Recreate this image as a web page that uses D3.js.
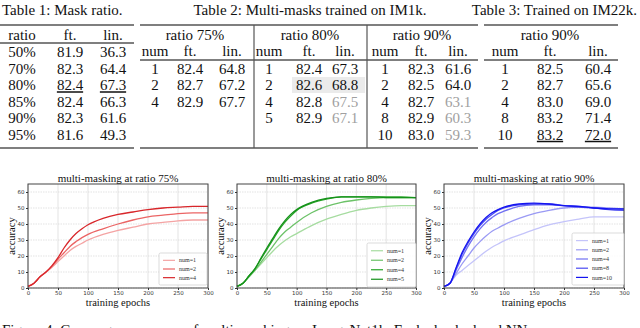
<!DOCTYPE html>
<html lang="en">
<head>
<meta charset="utf-8">
<title>Multi-masking tables and curves</title>
<script src="https://d3js.org/d3.v7.min.js"></script>
<style>
  body { margin: 0; background: #fff; }
  svg { display: block; }
  .tbl text { font-family: "Liberation Serif", "Times New Roman", "DejaVu Serif", serif; font-size: 15px; fill: #111; }
  .rule { stroke: #555; stroke-width: 1.4; }
  .vrule { stroke: #555; stroke-width: 1.2; }
  .chart .tick text { font-family: "DejaVu Sans", sans-serif; font-size: 5.5px; fill: #333; }
  .chart .tick line { stroke: #333; }
  .grid line { stroke: #dcdcdc; stroke-width: 0.8; }
  .ctitle { font-family: "Liberation Serif", "DejaVu Serif", serif; font-size: 11px; fill: #111; }
  .clabel { font-family: "Liberation Serif", "DejaVu Serif", serif; font-size: 10.5px; fill: #111; }
  .legend text { font-family: "Liberation Serif", "DejaVu Serif", serif; font-size: 6px; fill: #333; }
</style>
</head>
<body>
<script>
// ---- table data ----
var t1Rows = [
  ["50%", "81.9", "36.3"],
  ["70%", "82.3", "64.4"],
  ["80%", "82.4", "67.3"],
  ["85%", "82.4", "66.3"],
  ["90%", "82.3", "61.6"],
  ["95%", "81.6", "49.3"]
];
var t2Groups = ["ratio 75%", "ratio 80%", "ratio 90%"];
var t2r75 = [["1", "82.4", "64.8"], ["2", "82.7", "67.2"], ["4", "82.9", "67.7"]];
var t2r80 = [["1", "82.4", "67.3"], ["2", "82.6", "68.8"], ["4", "82.8", "67.5"], ["5", "82.9", "67.1"]];
var t2r90 = [["1", "82.3", "61.6"], ["2", "82.5", "64.0"], ["4", "82.7", "63.1"], ["8", "82.9", "60.3"], ["10", "83.0", "59.3"]];
var t2Gray = { "80-2": true, "80-3": true, "90-2": true, "90-3": true, "90-4": true }; // lin. greyed
var t3Rows = [["1", "82.5", "60.4"], ["2", "82.7", "65.6"], ["4", "83.0", "69.0"], ["8", "83.2", "71.4"], ["10", "83.2", "72.0"]];

// ---- curve data (accuracy vs training epoch) ----
var epochs = [0, 10, 20, 30, 40, 50, 60, 70, 80, 90, 100, 125, 150, 175, 200, 225, 250, 275, 300];
var r75 = {
  "num=1": [1, 3, 7, 10, 13, 16.5, 20, 23.5, 26, 28, 30, 33.5, 36, 38, 40, 41, 42, 42.5, 42.5],
  "num=2": [1, 3, 7, 10, 13.5, 18, 22, 26, 29, 31.5, 33.5, 37, 40, 42.5, 44.5, 45.5, 46.5, 47, 47],
  "num=4": [1, 3, 7, 10, 14, 19, 25, 30, 34, 37, 39.5, 43.5, 46, 47.5, 49, 50, 50.5, 51, 51]
};
var r80 = {
  "num=1": [1, 3, 7, 11, 15, 19, 23, 26.5, 29.5, 32, 34, 39, 43, 46, 48.5, 50, 51, 51.5, 51.5],
  "num=2": [1, 3, 7, 11, 16, 21, 26, 31, 35, 38, 41, 47, 51, 53.5, 55, 56, 56.5, 56.5, 56.5],
  "num=4": [1, 3, 7.5, 12, 18, 24, 30, 36, 41, 45, 48.5, 53, 55.5, 57, 57, 57, 57, 57, 56.5],
  "num=5": [1, 3, 7.5, 12, 18.5, 25, 31, 37, 42, 46, 49, 53.5, 56, 57, 57, 57, 56.5, 56.5, 56.5]
};
var r90 = {
  "num=1": [1, 3, 8, 11, 14, 17, 20, 23, 25.5, 27.5, 29.5, 33, 36.5, 39.5, 41.5, 43, 44.5, 44.5, 44.5],
  "num=2": [1, 3, 9, 15, 20, 25, 29, 32.5, 35.5, 37.5, 39.5, 43.5, 46.5, 48.5, 50, 50.5, 50.5, 50, 49.5],
  "num=4": [1, 3, 11, 19, 26, 32, 37, 41, 44, 46.5, 48, 51, 52, 52, 51.5, 51, 50, 49.5, 49],
  "num=8": [1, 3, 12, 21, 28, 34, 39, 43, 46, 48.5, 50, 52, 52.5, 52.5, 51.5, 50.5, 50, 49, 48.5],
  "num=10": [1, 3, 12.5, 22, 29, 35, 40, 44, 47, 49, 50.5, 52.5, 53, 52.5, 51.5, 51, 50, 49.5, 49.5]
};
var xTicks = [0, 50, 100, 150, 200, 250, 300];
var yTicks = [0, 10, 20, 30, 40, 50, 60];

var W = 640, H = 328;
var svg = d3.select("body").append("svg").attr("width", W).attr("height", H);

// ================= tables =================
var tbl = svg.append("g").attr("class", "tbl");
var rowY = [52, 68.5, 85, 101.5, 118, 134.5]; // text centres for body rows

function hline(x1, x2, y) {
  tbl.append("line").attr("class", "rule").attr("x1", x1).attr("x2", x2).attr("y1", y).attr("y2", y);
}
function cell(x, y, s, opts) {
  opts = opts || {};
  var t = tbl.append("text").attr("x", x).attr("y", y).attr("dy", "0.35em")
    .attr("text-anchor", "middle").text(s);
  if (opts.gray) t.style("fill", "#a0a0a0");
  if (opts.under) t.attr("text-decoration", "underline");
  return t;
}

// Table 1
tbl.append("text").attr("x", 2).attr("y", 15).text("Table 1: Mask ratio.");
hline(0, 134, 25);
cell(22, 35, "ratio"); cell(70, 35, "ft."); cell(113, 35, "lin.");
hline(0, 134, 43);
t1Rows.forEach(function(r, i) {
  var u = r[0] === "80%";
  cell(22, rowY[i], r[0]);
  cell(70, rowY[i], r[1], { under: u });
  cell(113, rowY[i], r[2], { under: u });
});
hline(0, 134, 148);

// Table 2
tbl.append("text").attr("x", 310).attr("y", 15).attr("text-anchor", "middle")
  .text("Table 2: Multi-masks trained on IM1k.");
hline(140, 478, 25);
hline(140, 478, 60);
hline(140, 478, 148);
[254, 367].forEach(function(x) {
  tbl.append("line").attr("class", "vrule").attr("x1", x).attr("x2", x).attr("y1", 25).attr("y2", 148);
});
var t2Cols = [
  { key: "75", rows: t2r75, cx: [155, 190, 232], mid: 195 },
  { key: "80", rows: t2r80, cx: [269, 309, 345], mid: 310 },
  { key: "90", rows: t2r90, cx: [385, 421, 458], mid: 422 }
];
// highlight cell
tbl.append("rect").attr("x", 292).attr("y", 77).attr("width", 73).attr("height", 16).attr("fill", "#ebebeb");
t2Cols.forEach(function(g, gi) {
  cell(g.mid, 35, t2Groups[gi]);
  cell(g.cx[0], 51, "num"); cell(g.cx[1], 51, "ft."); cell(g.cx[2], 51, "lin.");
  g.rows.forEach(function(r, i) {
    var y = rowY[i + 1];
    cell(g.cx[0], y, r[0]);
    cell(g.cx[1], y, r[1]);
    cell(g.cx[2], y, r[2], { gray: t2Gray[g.key + "-" + i] });
  });
});

// Table 3
tbl.append("text").attr("x", 637).attr("y", 15).attr("text-anchor", "end")
  .text("Table 3: Trained on IM22k.");
hline(484, 618, 25);
hline(484, 618, 60);
hline(484, 618, 148);
cell(550, 35, "ratio 90%");
var t3cx = [505, 550, 598];
cell(t3cx[0], 51, "num"); cell(t3cx[1], 51, "ft."); cell(t3cx[2], 51, "lin.");
t3Rows.forEach(function(r, i) {
  var u = i === t3Rows.length - 1;
  cell(t3cx[0], rowY[i + 1], r[0]);
  cell(t3cx[1], rowY[i + 1], r[1], { under: u });
  cell(t3cx[2], rowY[i + 1], r[2], { under: u });
});

// ================= charts =================
var charts = [
  { title: "multi-masking at ratio 75%", data: r75, x0: 28, x1: 208, ylab: 12,
    colors: ["#f4a3a3", "#eb6464", "#d8262a"], leg: [159, 253, 48, 32] },
  { title: "multi-masking at ratio 80%", data: r80, x0: 237, x1: 416, ylab: 221,
    colors: ["#a6dca0", "#6cc268", "#28a428", "#15921a"], leg: [367, 243, 49, 44] },
  { title: "multi-masking at ratio 90%", data: r90, x0: 444, x1: 624, ylab: 428,
    colors: ["#c4c4fa", "#9a9af4", "#7070f2", "#4a4af2", "#1414f0"], leg: [572, 233, 52, 52] }
];
var plotTop = 184, plotBottom = 288;

charts.forEach(function(c) {
  var g = svg.append("g").attr("class", "chart");
  var x = d3.scaleLinear().domain([0, 300]).range([c.x0, c.x1]);
  var y = d3.scaleLinear().domain([0, 65]).range([plotBottom, plotTop]);

  var grid = g.append("g").attr("class", "grid");
  grid.selectAll(".gx").data(xTicks).enter().append("line")
    .attr("x1", x).attr("x2", x).attr("y1", plotTop).attr("y2", plotBottom);
  grid.selectAll(".gy").data(yTicks).enter().append("line")
    .attr("x1", c.x0).attr("x2", c.x1).attr("y1", y).attr("y2", y)
    .attr("stroke-dasharray", "1.5,1");

  var line = d3.line()
    .x(function(d, i) { return x(epochs[i]); })
    .y(function(d) { return y(d); })
    .curve(d3.curveMonotoneX);

  var keys = Object.keys(c.data);
  keys.forEach(function(k, i) {
    g.append("path").attr("d", line(c.data[k]))
      .attr("fill", "none").attr("stroke", c.colors[i]).attr("stroke-width", 1.3);
  });

  // frame
  g.append("rect").attr("x", c.x0).attr("y", plotTop).attr("width", c.x1 - c.x0).attr("height", plotBottom - plotTop)
    .attr("fill", "none").attr("stroke", "#444").attr("stroke-width", 1);

  g.append("g").attr("transform", "translate(0," + plotBottom + ")")
    .call(d3.axisBottom(x).tickValues(xTicks).tickSize(2).tickPadding(1.5))
    .call(function(s) { s.select(".domain").remove(); });
  g.append("g").attr("transform", "translate(" + c.x0 + ",0)")
    .call(d3.axisLeft(y).tickValues(yTicks).tickSize(2).tickPadding(1.5))
    .call(function(s) { s.select(".domain").remove(); });

  g.append("text").attr("class", "ctitle").attr("x", (c.x0 + c.x1) / 2).attr("y", 182)
    .attr("text-anchor", "middle").text(c.title);
  g.append("text").attr("class", "clabel").attr("x", (c.x0 + c.x1) / 2).attr("y", 306)
    .attr("text-anchor", "middle").text("training epochs");
  g.append("text").attr("class", "clabel")
    .attr("transform", "translate(" + (c.ylab + 3) + "," + ((plotTop + plotBottom) / 2) + ") rotate(-90)")
    .attr("text-anchor", "middle").text("accuracy");

  // legend
  var L = c.leg;
  var lg = g.append("g").attr("class", "legend");
  lg.append("rect").attr("x", L[0]).attr("y", L[1]).attr("width", L[2]).attr("height", L[3])
    .attr("fill", "#fff").attr("fill-opacity", 0.85).attr("stroke", "#ccc").attr("stroke-width", 0.7).attr("rx", 1.5);
  var step = (L[3] - 6) / keys.length;
  keys.forEach(function(k, i) {
    var yy = L[1] + 3 + step * (i + 0.5);
    lg.append("line").attr("x1", L[0] + 4).attr("x2", L[0] + 16).attr("y1", yy).attr("y2", yy)
      .attr("stroke", c.colors[i]).attr("stroke-width", 1.2);
    lg.append("text").attr("x", L[0] + 20).attr("y", yy).attr("dy", "0.35em").text(k);
  });
});

// caption (cut off by the page edge)
svg.append("text").attr("x", 2).attr("y", 335)
  .style("font-family", "'Liberation Serif', 'DejaVu Serif', serif").style("font-size", "15px").style("fill", "#111")
  .text("Figure 4: Convergence curves of multi-masking on ImageNet1k. Each checked and NN");
</script>
</body>
</html>
